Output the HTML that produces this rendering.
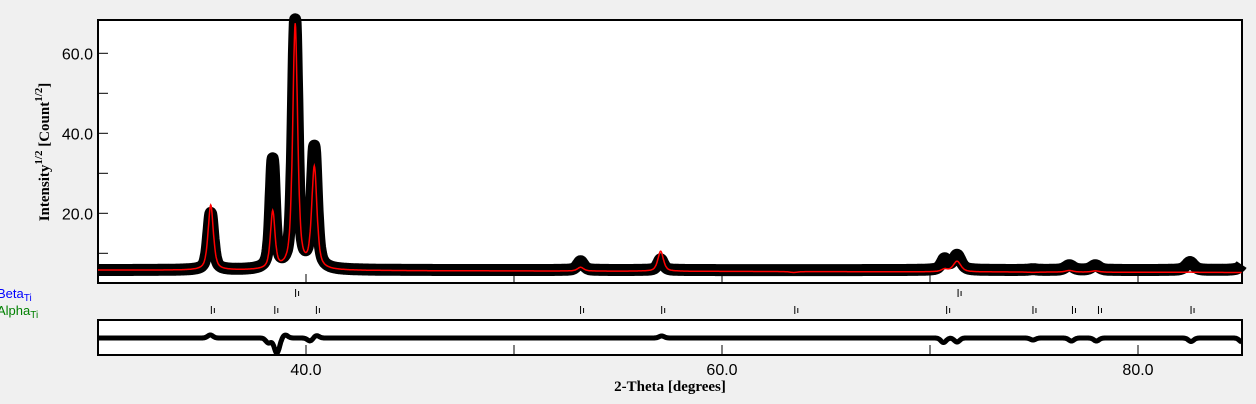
<!DOCTYPE html>
<html><head><meta charset="utf-8"><style>
body{margin:0;background:#f0f0f0;width:1256px;height:404px;overflow:hidden;font-family:"Liberation Sans",sans-serif}
svg{position:absolute;left:0;top:0}
</style></head><body>
<svg id="c" width="1256" height="404">
<rect x="98" y="20" width="1144" height="263" fill="#fff" stroke="#000" stroke-width="2"/>
<rect x="98" y="320" width="1144" height="35" fill="#fff" stroke="#000" stroke-width="2"/>
<g id="main"></g>
<g id="diff"></g>
<g id="ticks"></g>
<g id="axes"></g>
<text x="-3" y="298" font-size="13" fill="#0000ff" font-family="Liberation Sans">Beta<tspan font-size="10" dy="3">Ti</tspan></text>
<text x="-3" y="315" font-size="13" fill="#008000" font-family="Liberation Sans">Alpha<tspan font-size="10" dy="3">Ti</tspan></text>
<text transform="translate(49,152) rotate(-90)" text-anchor="middle" font-family="Liberation Serif" font-weight="bold" font-size="15">Intensity<tspan font-size="11" dy="-7">1/2</tspan><tspan dy="7"> [Count</tspan><tspan font-size="11" dy="-7">1/2</tspan><tspan dy="7">]</tspan></text>
<text x="670" y="391" text-anchor="middle" font-family="Liberation Serif" font-weight="bold" font-size="15">2-Theta [degrees]</text>
</svg>
<script>
const peakPos  =[35.42,38.4,39.48,40.4,53.2,57.05,63.45,70.7,71.3,74.95,76.7,77.95,82.5,85.2];
const obsHeight=[20,33,68,36,8,8.5,5.8,8.5,9.5,6,7,7,7.8,8.5];
const calcHeight=[22,20,67,31,6.5,10.5,5.2,6,8,5.2,5.7,5.6,5.3,5.2];
const peakWidth=[0.15,0.13,0.14,0.15,0.18,0.16,0.22,0.18,0.22,0.22,0.22,0.22,0.22,0.22];
const betaRefl =[39.5,71.35];
const alphaRefl=[35.45,38.5,40.5,53.2,57.1,63.5,70.8,74.95,76.85,78.1,82.55];
const diffPos=[35.4,38.2,38.6,39.0,40.2,40.5,57.1,70.65,71.3,74.95,76.8,78.0,82.55,85];
const diffAmp=[6,-10,-30,6,-6,5,4,-9,-8,-4,-6,-6,-7,-8];
const yTicks=[20,40,60];
const xTicks=[40,60,80];
const bgObs=5.8, bgCalc=5.8;
const NS='http://www.w3.org/2000/svg';
const X=t=>98+(t-30)*20.8;
const Y=v=>293.3-v*4;
const DY=v=>338+v*0.5;
function pv(d,w){return 0.6/(1+(d/w)*(d/w))+0.4*Math.exp(-(d/w)*(d/w)*0.69);}
function prof(t,hs,bg){let s=bg;for(let i=0;i<peakPos.length;i++){s+=(hs[i]-bg)*pv(t-peakPos[i],peakWidth[i]);}return s;}
const main=document.getElementById('main');
let po='',pc='',pd='';
for(let t=30;t<=85;t+=0.02){
  const o=Math.min(prof(t,obsHeight,bgObs),68.5);
  const c=Math.min(prof(t,calcHeight,bgCalc-0.6*(t-30)/55),68.5);
  po+=(po?'L':'M')+X(t).toFixed(1)+','+Y(o).toFixed(1);
  pc+=(pc?'L':'M')+X(t).toFixed(1)+','+Y(c).toFixed(1);
  let d=0;for(let i=0;i<diffPos.length;i++){d-=diffAmp[i]*Math.exp(-Math.pow((t-diffPos[i])/0.18,2));}
  pd+=(pd?'L':'M')+X(t).toFixed(1)+','+Math.max(321,Math.min(354,DY(d))).toFixed(1);
}
let p=document.createElementNS(NS,'path');p.setAttribute('d',po);p.setAttribute('fill','none');p.setAttribute('stroke','#000');p.setAttribute('stroke-width','12');p.setAttribute('stroke-linejoin','round');


main.appendChild(p);
p=document.createElementNS(NS,'path');p.setAttribute('d',pc);p.setAttribute('fill','none');p.setAttribute('stroke','#f00');p.setAttribute('stroke-width','1.5');


main.appendChild(p);
p=document.createElementNS(NS,'path');p.setAttribute('d',pd);p.setAttribute('fill','none');p.setAttribute('stroke','#000');p.setAttribute('stroke-width','5');


document.getElementById('diff').appendChild(p);
const tg=document.getElementById('ticks');
function refl(arr,y,name){arr.forEach(t=>{const l=document.createElementNS(NS,'path');const x=X(t);
 l.setAttribute('d',`M${x},${y}V${y+8}M${x+3},${y+2}V${y+7}`);l.setAttribute('stroke','#000');l.setAttribute('stroke-width','1');
 
 
 tg.appendChild(l);});}
refl(betaRefl,289,'beta-reflection-tick');refl(alphaRefl,306,'alpha-reflection-tick');
const ax=document.getElementById('axes');
[10,20,30,40,50,60].forEach(v=>{const l=document.createElementNS(NS,'line');l.setAttribute('x1',98);l.setAttribute('x2',108);l.setAttribute('y1',Y(v));l.setAttribute('y2',Y(v));l.setAttribute('stroke','#000');
 
 
 ax.appendChild(l);});
yTicks.forEach(v=>{const t=document.createElementNS(NS,'text');t.setAttribute('x',93);t.setAttribute('y',Y(v)+6);t.setAttribute('text-anchor','end');t.setAttribute('font-size','16');t.textContent=v.toFixed(1);
 
 
 ax.appendChild(t);});
[40,50,60,70,80].forEach(v=>{const l=document.createElementNS(NS,'path');const x=X(v);l.setAttribute('d',`M${x},283V274M${x},355V345`);l.setAttribute('stroke','#000');
 
 
 ax.appendChild(l);});
xTicks.forEach(v=>{const t=document.createElementNS(NS,'text');t.setAttribute('x',X(v));t.setAttribute('y',375);t.setAttribute('text-anchor','middle');t.setAttribute('font-size','16');t.textContent=v.toFixed(1);
 
 
 ax.appendChild(t);});
</script>
</body></html>
